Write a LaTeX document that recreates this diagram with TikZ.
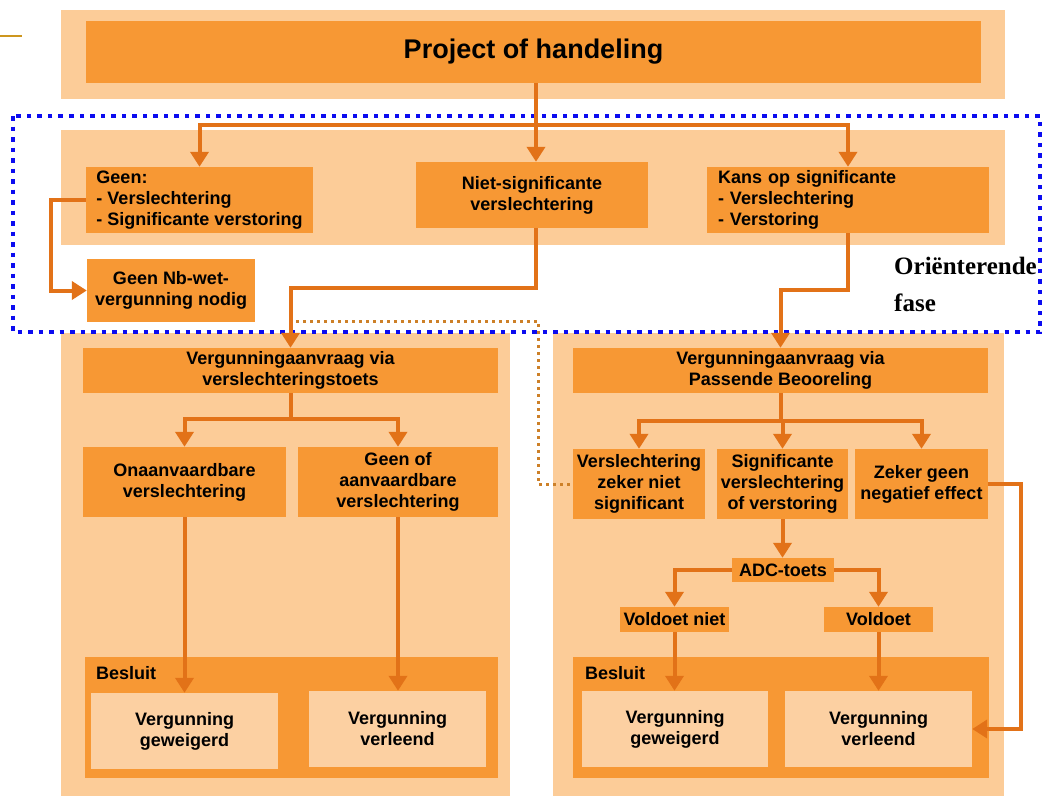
\documentclass[tikz,border=0pt]{standalone}
\usepackage{fontspec}
\setmainfont{Liberation Sans}
\newfontfamily\orifont{Liberation Serif}
\usetikzlibrary{arrows.meta}
\definecolor{panelc}{RGB}{252,204,152}
\definecolor{boxc}{RGB}{247,152,52}
\definecolor{lightc}{RGB}{252,208,162}
\definecolor{arrc}{RGB}{226,114,24}
\definecolor{bluec}{RGB}{12,12,240}
\definecolor{dotc}{RGB}{205,128,40}
\definecolor{goldc}{RGB}{205,150,30}
\tikzset{
  sz/.style 2 args={minimum width=#1pt, minimum height=#2pt},
  panel/.style={fill=panelc, draw=none, inner sep=0pt},
  box/.style={fill=boxc, draw=none, inner sep=0pt, align=center, font=\bfseries\fontsize{18}{21}\selectfont},
  lbox/.style={box, fill=lightc},
  conn/.style={draw=arrc, line width=4pt},
  arr/.style={conn, -{Triangle[width=18pt,length=15pt]}},
  dotline/.style={draw=dotc, line width=3pt, dash pattern=on 3pt off 4pt},
  bluebox/.style={draw=bluec, line width=4.5pt, dash pattern=on 4.5pt off 6pt},
  lbl/.style={anchor=west, inner sep=0pt, font=\bfseries\fontsize{18}{21}\selectfont}
}
\begin{document}
\begin{tikzpicture}[x=1pt,y=-1pt]
\useasboundingbox[fill=white] (0,0) rectangle (1058,796);
\draw[goldc, line width=1.5pt] (0,36) -- (22,36);
% panels
\node[panel, sz={944}{89}] (p0) at (533,54.5) {};
\node[panel, sz={944}{115}] (p1) at (533,187.5) {};
\node[panel, sz={449}{463}] (pL) at (285.5,564.5) {};
\node[panel, sz={451}{463}] (pR) at (778.5,564.5) {};
\node[box, sz={413}{121}] (besL) at (291.5,717.5) {};
\node[box, sz={416}{121}] (besR) at (781,717.5) {};
% blue dotted frame
\draw[bluebox] (13,116) rectangle (1040,332);
\node[anchor=north west, inner sep=0pt, align=left, font=\orifont\bfseries\fontsize{25}{37}\selectfont] (ori) at (894,257) {Oriënterende\\fase};
% top
\node[box, sz={895}{62}, font=\bfseries\fontsize{27}{32}\selectfont] (title) at (533.5,52) {\raisebox{-3pt}{Project of handeling}};
\node[box, sz={227}{66}, align=left] (geen) at (199.5,200) {Geen:\\- Verslechtering\\- Significante verstoring};
\node[box, sz={232}{66}] (niet) at (532,195) {Niet-significante\\verslechtering};
\node[box, sz={282}{66}, text width=260pt, align=left] (kans) at (848,200) {Kans op significante\\- Verslechtering\\- Verstoring};
\node[box, sz={168}{63}] (nbwet) at (171,290.5) {Geen Nb-wet-\\vergunning nodig};
% left column
\node[box, sz={415}{45}] (vaL) at (290.5,370.5) {Vergunningaanvraag via\\verslechteringstoets};
\node[box, sz={203}{70}] (onaanv) at (184.5,482) {Onaanvaardbare\\verslechtering};
\node[box, sz={200}{70}] (geenof) at (398,482) {Geen of\\aanvaardbare\\verslechtering};
\node[lbl] (besluitL) at (96,673) {Besluit};
\node[lbox, sz={187}{76}] (gewL) at (184.5,731) {Vergunning\\geweigerd};
\node[lbox, sz={177}{76}] (verlL) at (397.5,729) {Vergunning\\verleend};
% right column
\node[box, sz={415}{45}] (vaR) at (780.5,370.5) {Vergunningaanvraag via\\Passende Beooreling};
\node[box, sz={132}{70}] (zekerniet) at (639,484) {Verslechtering\\zeker niet\\significant};
\node[box, sz={131}{70}] (signif) at (782.5,484) {Significante\\verslechtering\\of verstoring};
\node[box, sz={133}{70}] (zekergeen) at (921.5,484) {Zeker geen\\negatief effect};
\node[box, sz={102}{24}] (adc) at (783,570) {ADC-toets};
\node[box, sz={109}{25}] (vniet) at (674.5,619.5) {Voldoet niet};
\node[box, sz={109}{25}] (voldoet) at (878.5,619.5) {Voldoet};
\node[lbl] (besluitR) at (585,673) {Besluit};
\node[lbox, sz={186}{76}] (gewR) at (675,729) {Vergunning\\geweigerd};
\node[lbox, sz={187}{76}] (verlR) at (878.5,729) {Vergunning\\verleend};
% connectors
\coordinate (j1) at (536,125);
\draw[conn] (title.south -| j1) -- (j1);
\draw[arr] (j1) -| (geen.north);
\draw[arr] (j1) -- (niet.north -| j1);
\draw[arr] (j1) -| (kans.north);
\draw[arr] (geen.west) -- ++(-35,0) |- (nbwet.west);
\coordinate (d0) at (296,321);
\coordinate (d1) at (538,321);
\draw[dotline] (d0) -- (d1) |- (zekerniet.west);
\draw[arr] (niet.south -| j1) -- ++(0,60) -| (vaL.north);
\draw[arr] (kans.south) -- ++(0,57) -| (vaR.north);
\coordinate (j2) at (290.5,419);
\draw[conn] (vaL.south) -- (j2);
\draw[arr] (j2) -| (onaanv.north);
\draw[arr] (j2) -| (geenof.north);
\draw[arr] (onaanv.south) -- (gewL.north -| onaanv.south);
\draw[arr] (geenof.south) -- (verlL.north -| geenof.south);
\coordinate (j3) at (780.5,421);
\draw[conn] (vaR.south) -- (j3);
\draw[arr] (j3) -| (zekerniet.north);
\draw[arr] (j3) -| (signif.north);
\draw[arr] (j3) -| (zekergeen.north);
\draw[arr] (signif.south) -- (adc.north -| signif.south);
\draw[arr] (adc.west) -| (vniet.north);
\draw[arr] (adc.east) -| (voldoet.north);
\draw[arr] (vniet.south) -- (gewR.north -| vniet.south);
\draw[arr] (voldoet.south) -- (verlR.north);
\draw[arr] (zekergeen.east) -- ++(33,0) |- (verlR.east);
\end{tikzpicture}
\end{document}
